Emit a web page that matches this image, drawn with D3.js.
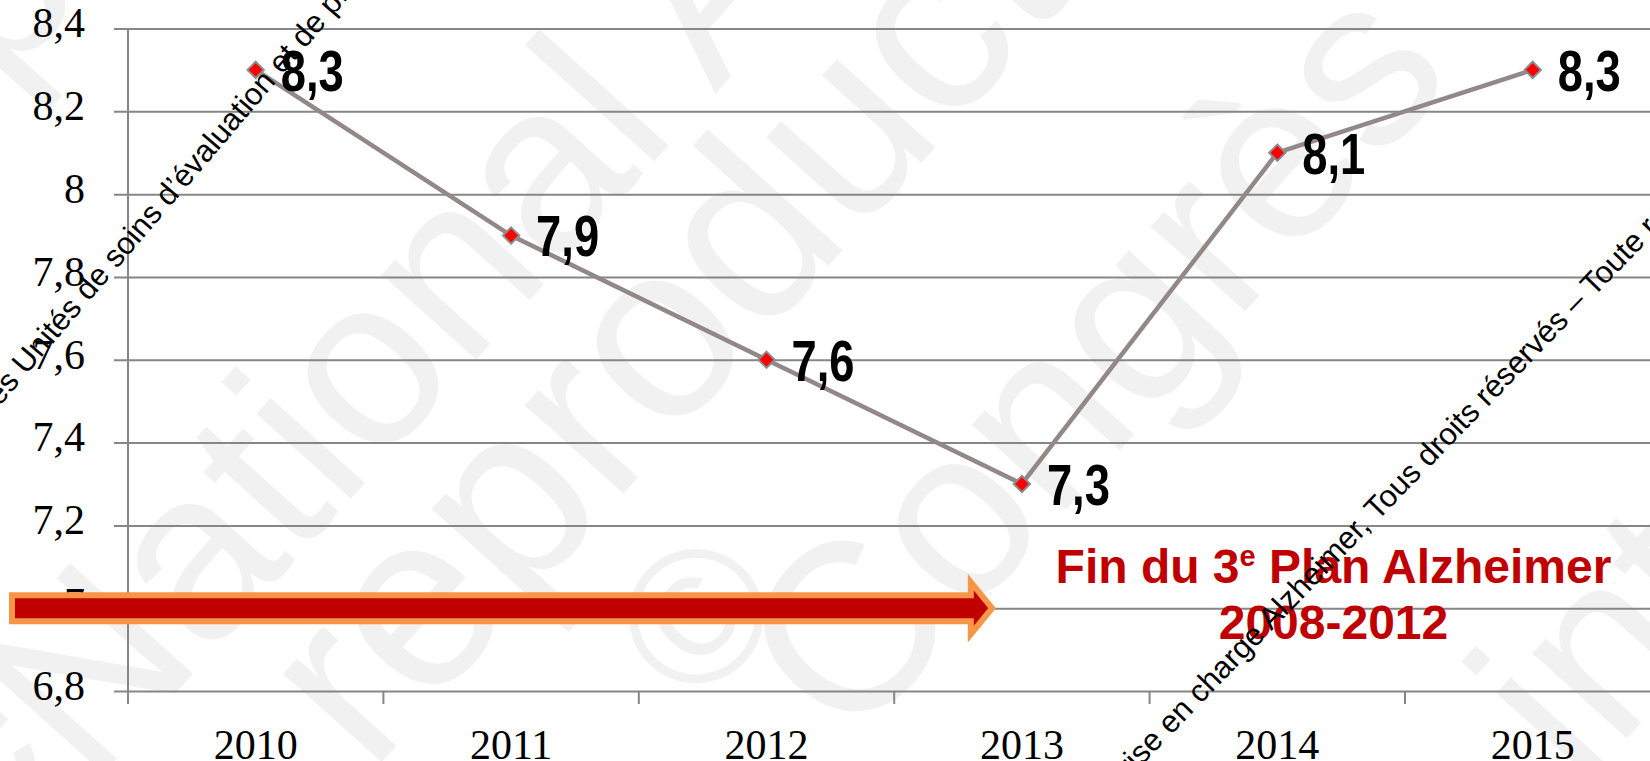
<!DOCTYPE html>
<html>
<head>
<meta charset="utf-8">
<script src="https://cdn.jsdelivr.net/npm/d3@7"></script>
<style>
  body { margin: 0; background: #fff; overflow: hidden; }
</style>
</head>
<body>
<svg id="chart" width="1650" height="761"></svg>
<script>
const years = ["2010", "2011", "2012", "2013", "2014", "2015"]
const values = [8.3, 7.9, 7.6, 7.3, 8.1, 8.3]
const valueLabels = ["8,3", "7,9", "7,6", "7,3", "8,1", "8,3"]
const yTicks = [6.8, 7.0, 7.2, 7.4, 7.6, 7.8, 8.0, 8.2, 8.4]
const yTickLabels = ["6,8", "7", "7,2", "7,4", "7,6", "7,8", "8", "8,2", "8,4"]
const noteLine1 = ["Fin du 3", "e", " Plan Alzheimer"]
const noteLine2 = "2008-2012"
const stampText1 = "des Unités de soins d’évaluation et de prise en charge Alzheimer"
const stampText2 = "prise en charge Alzheimer, Tous droits réservés – Toute reproduction interdite"
// faint watermark words: [text, x, y, size] baseline start
const watermark = [
  ["p", 0, 90, 240],
  ["e", -30, 850, 240],
  ["National Alzheimer", 90, 788, 240],
  ["reproduction", 370, 775, 250],
  ["©", 698, 712, 190],
  ["Congrès", 850, 750, 240],
  ["interdite", 1580, 790, 240]
]

const W = 1650, H = 761
const svg = d3.select("#chart")

const x = d3.scaleBand().domain(years).range([128, 128 + 6 * 255.4]).padding(0)
const y = d3.scaleLinear().domain([6.8, 8.4]).range([691, 28.5])

// watermark
const wm = svg.append("g")
  .attr("fill", "#f1f1f1")
  .style("font-family", "'Liberation Sans', Arial, sans-serif")
wm.selectAll("text")
  .data(watermark)
  .join("text")
    .attr("transform", d => `translate(${d[1]},${d[2]}) rotate(-48)`)
    .style("font-size", d => d[3] + "px")
    .text(d => d[0])

// y axis + grid
const yAxis = d3.axisLeft(y)
  .tickValues(yTicks)
  .tickFormat((d, i) => yTickLabels[i])
  .tickSize(14)
  .tickPadding(29)

const gy = svg.append("g")
  .attr("transform", `translate(${x.range()[0]},0)`)
  .call(yAxis)
gy.select(".domain").remove()
gy.selectAll(".tick line")
  .attr("x1", -14)
  .attr("x2", W - x.range()[0])
  .attr("stroke", "#868686")
  .attr("stroke-width", 2)
gy.selectAll(".tick text")
  .attr("dy", "0.2em")
  .attr("fill", "#000")
  .style("font", "42px 'Liberation Serif', 'Times New Roman', serif")

// vertical axis line
svg.append("line")
  .attr("x1", x.range()[0]).attr("x2", x.range()[0])
  .attr("y1", y(8.4)).attr("y2", y(6.8) + 13)
  .attr("stroke", "#868686")
  .attr("stroke-width", 2)

// x axis
const xAxis = d3.axisBottom(x).tickSize(0).tickPadding(38)
const gx = svg.append("g")
  .attr("transform", `translate(0,${y(6.8)})`)
  .call(xAxis)
gx.select(".domain").remove()
gx.selectAll(".tick text")
  .attr("dy", "0.71em")
  .attr("fill", "#000")
  .style("font", "42px 'Liberation Serif', 'Times New Roman', serif")
gx.selectAll(".bound")
  .data(years.slice(1).map(d => x(d)).concat([x.range()[1]]))
  .join("line")
    .attr("class", "bound")
    .attr("x1", d => d).attr("x2", d => d)
    .attr("y1", 0).attr("y2", 13)
    .attr("stroke", "#868686")
    .attr("stroke-width", 2)

// series
const cx = (d, i) => x(years[i]) + x.bandwidth() / 2
const line = d3.line().x(cx).y(d => y(d))

svg.append("path")
  .datum(values)
  .attr("fill", "none")
  .attr("stroke", "#928889")
  .attr("stroke-width", 4.5)
  .attr("d", line)

svg.append("g")
  .selectAll("path")
  .data(values)
  .join("path")
    .attr("transform", (d, i) => `translate(${cx(d, i)},${y(d)})`)
    .attr("d", d3.symbol(d3.symbolDiamond2, 170))
    .attr("fill", "#ff0000")
    .attr("stroke", "#8c8c8c")
    .attr("stroke-width", 2)

svg.append("g")
  .selectAll("text")
  .data(values)
  .join("text")
    .attr("x", (d, i) => cx(d, i) + 25)
    .attr("y", d => y(d))
    .attr("dy", "0.36em")
    .attr("textLength", 63)
    .attr("lengthAdjust", "spacingAndGlyphs")
    .attr("fill", "#000")
    .style("font", "bold 58px 'Liberation Sans Narrow', 'Arial Narrow', 'Liberation Sans', sans-serif")
    .text((d, i) => valueLabels[i])

// arrow
const ay = y(7.0)
const ax0 = 12
const axBase = x("2013") + x.bandwidth() * 0.30
const axTip = x("2013") + x.bandwidth() * 0.383
const arrowPts = [
  [ax0, ay - 13], [axBase, ay - 13], [axBase, ay - 26], [axTip, ay],
  [axBase, ay + 26], [axBase, ay + 13], [ax0, ay + 13]
]
svg.append("path")
  .attr("d", d3.line()(arrowPts) + "Z")
  .attr("fill", "#c00000")
  .attr("stroke", "#f79646")
  .attr("stroke-width", 6)
  .attr("stroke-linejoin", "miter")

// annotation
const noteX = x("2014") + x.bandwidth() * 0.72
const note = svg.append("g")
  .attr("fill", "#c00000")
  .attr("text-anchor", "middle")
  .style("font", "bold 48px 'Liberation Sans', Arial, sans-serif")
const t1 = note.append("text").attr("x", noteX).attr("y", ay - 25)
t1.append("tspan").text(noteLine1[0])
t1.append("tspan").attr("dy", -17).style("font-size", "29px").text(noteLine1[1])
t1.append("tspan").attr("dy", 17).text(noteLine1[2])
note.append("text").attr("x", noteX).attr("y", ay + 31).text(noteLine2)

// diagonal stamp text
const stamp = svg.append("g")
  .attr("fill", "#000")
  .style("font", "31px 'Liberation Sans', Arial, sans-serif")
stamp.append("text")
  .attr("transform", "translate(-12,420) rotate(-49.5)")
  .text(stampText1)
stamp.append("text")
  .attr("transform", "translate(1118,790) rotate(-46)")
  .text(stampText2)
</script>
</body>
</html>
